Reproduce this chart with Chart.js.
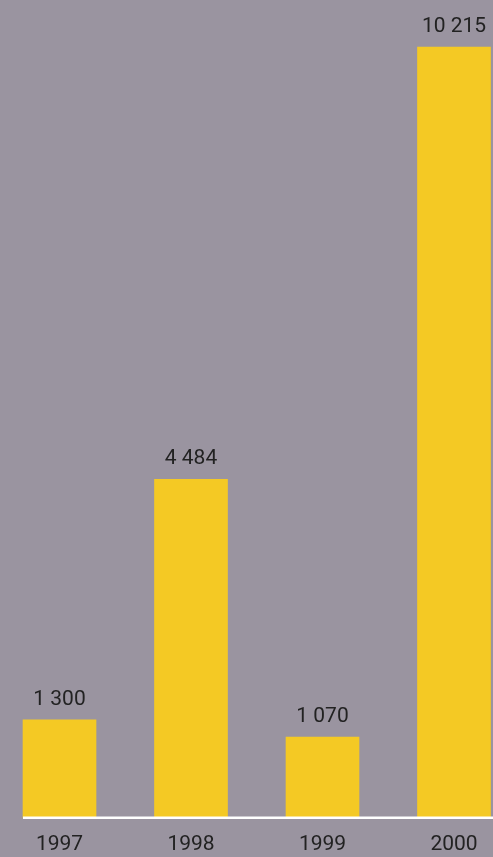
<!DOCTYPE html>
<html>
<head>
<meta charset="utf-8">
<script src="https://cdn.jsdelivr.net/npm/chart.js@4/dist/chart.umd.min.js"></script>
<style>
  html, body { margin: 0; padding: 0; background: #9a94a0; }
  #wrap { width: 493px; height: 857px; position: relative; }
</style>
</head>
<body>
<div id="wrap"><canvas id="chart"></canvas></div>
<script>
const YEARS = ['1997', '1998', '1999', '2000'];
const VALUES = [1300, 4484, 1070, 10215];

const FONT = { family: 'Roboto, "Noto Sans", sans-serif', size: 21 };
const TEXT_COLOR = '#222222';

const formatValue = (v) => String(v).replace(/\B(?=(\d{3})+(?!\d))/g, ' ');

// value label above every bar
const valueLabels = {
  id: 'valueLabels',
  afterDatasetsDraw(chart) {
    const { ctx } = chart;
    const meta = chart.getDatasetMeta(0);
    ctx.save();
    ctx.font = `${FONT.size}px ${FONT.family}`;
    ctx.fillStyle = TEXT_COLOR;
    ctx.textAlign = 'center';
    ctx.textBaseline = 'alphabetic';
    meta.data.forEach((bar, i) => {
      ctx.fillText(formatValue(VALUES[i]), bar.x, bar.y - 15);
    });
    ctx.restore();
  },
};

// white base line running from the first bar to the right edge
const baseLine = {
  id: 'baseLine',
  afterDatasetsDraw(chart) {
    const { ctx } = chart;
    const first = chart.getDatasetMeta(0).data[0];
    const y = chart.scales.y.getPixelForValue(0);
    ctx.save();
    ctx.strokeStyle = '#ffffff';
    ctx.lineWidth = 2.5;
    ctx.beginPath();
    ctx.moveTo(first.x - first.width / 2, y);
    ctx.lineTo(chart.width, y);
    ctx.stroke();
    ctx.restore();
  },
};

new Chart(document.getElementById('chart'), {
  type: 'bar',
  data: {
    labels: YEARS,
    datasets: [
      {
        data: VALUES,
        backgroundColor: '#f4c924',
        borderWidth: 0,
        barThickness: 73,
        clip: false,
      },
    ],
  },
  options: {
    responsive: true,
    maintainAspectRatio: false,
    animation: false,
    layout: { padding: { top: 47, left: 59.5, right: 39, bottom: -14 } },
    plugins: {
      legend: { display: false },
      tooltip: { enabled: false },
    },
    scales: {
      x: {
        offset: false,
        grid: { display: false, drawTicks: false },
        border: { display: false },
        ticks: {
          color: TEXT_COLOR,
          font: FONT,
          padding: 14,
          maxRotation: 0,
          autoSkip: false,
        },
      },
      y: {
        display: false,
        min: 0,
        max: 10215,
      },
    },
  },
  plugins: [valueLabels, baseLine],
});
</script>
</body>
</html>
